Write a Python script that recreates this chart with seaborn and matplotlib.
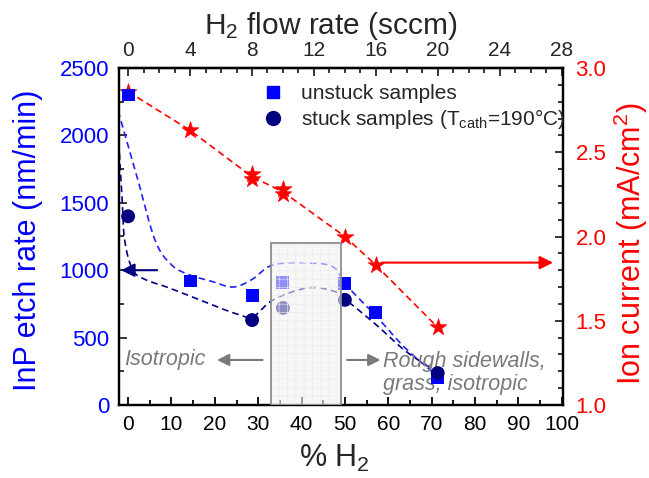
import numpy as np
import matplotlib
matplotlib.use("Agg")
import matplotlib.pyplot as plt
import seaborn as sns
import pandas as pd
from matplotlib.patches import Rectangle
from matplotlib.lines import Line2D
from matplotlib.ticker import MultipleLocator

# ---------------- data ----------------
pct_unstuck = [0, 14.3, 28.6, 35.7, 50.0, 57.1, 71.4]
rate_unstuck = [2300, 920, 810, 910, 900, 685, 200]
pct_stuck = [0, 28.6, 35.7, 50.0, 71.4]
rate_stuck = [1400, 630, 720, 780, 237]
flow_ion = [0, 4, 8, 8, 10, 10, 14, 16, 20]          # sccm
ion_current = [2.86, 2.63, 2.37, 2.34, 2.28, 2.25, 2.00, 1.83, 1.46]

# dashed guide curves
guide_unstuck_x = [-3.0, 2.0, 6.2, 10.0, 14.2, 19.0, 24.2, 28.5, 33.4, 41.3, 47.3, 50.3, 57.4, 64.0, 71.9]
guide_unstuck_y = [2260, 1700, 1224, 1040, 965, 920, 875, 930, 1039, 1054, 1024, 890, 653, 420, 200]
guide_stuck_x = [-2.6, -1.5, -0.8, 1.1, 4.0, 8.9, 16.6, 22.0, 25.8, 28.8, 33.4, 41.3, 47.3, 50.3, 57.4, 64.0, 71.6]
guide_stuck_y = [2190, 1600, 1224, 1002, 930, 875, 779, 710, 668, 653, 779, 868, 846, 779, 590, 400, 237]

x_ticks = list(range(0, 101, 10))
top_ticks = list(range(0, 29, 4))
left_ticks = [0, 500, 1000, 1500, 2000, 2500]
right_ticks = [1.0, 1.5, 2.0, 2.5, 3.0]

FLOW_MAX = 28.0


def catmull(xs, ys, n=16):
    P = np.column_stack([xs, ys]).astype(float)
    P = np.vstack([2 * P[0] - P[1], P, 2 * P[-1] - P[-2]])
    t = np.linspace(0, 1, n, endpoint=False)[:, None]
    out = []
    for i in range(1, len(P) - 2):
        p0, p1, p2, p3 = P[i - 1], P[i], P[i + 1], P[i + 2]
        seg = 0.5 * ((2 * p1) + (-p0 + p2) * t + (2 * p0 - 5 * p1 + 4 * p2 - p3) * t ** 2
                     + (-p0 + 3 * p1 - 3 * p2 + p3) * t ** 3)
        out.append(seg)
    out.append(P[-2][None, :])
    return np.vstack(out)


sns.set_style("ticks")
plt.rcParams["font.family"] = ["Liberation Sans", "DejaVu Sans"]
plt.rcParams["mathtext.fontset"] = "custom"
plt.rcParams["mathtext.rm"] = "Liberation Sans"
plt.rcParams["mathtext.it"] = "Liberation Sans:italic"
plt.rcParams["mathtext.sf"] = "Liberation Sans"
plt.rcParams["hatch.linewidth"] = 0.4

BLUE = "#0000ff"
NAVY = "#000080"
RED = "#ff0000"
GRAY = "#7a7a7a"

fig = plt.figure(figsize=(6.49, 4.78), dpi=100)
ax = fig.add_axes([119 / 649, 1 - 405 / 478, 444 / 649, 337 / 478])
ax2 = ax.twinx()
ax.set_zorder(ax2.get_zorder() + 1)
ax.patch.set_visible(False)

# ---- ion current (right axis) ----
df_ion = pd.DataFrame({"pct": [f / FLOW_MAX * 100 for f in flow_ion], "ion": ion_current})
sns.lineplot(data=df_ion, x="pct", y="ion", estimator="mean", errorbar=None, ax=ax2,
             color=RED, lw=1.2, dashes=False, linestyle=(0, (4, 2.5)), zorder=2)
sns.scatterplot(data=df_ion, x="pct", y="ion", marker="*", s=160, color=RED,
                edgecolor=RED, linewidth=0.5, ax=ax2, zorder=3)
ax2.annotate("", xy=(98, 1.845), xytext=(58.5, 1.845),
             arrowprops=dict(arrowstyle="-|>", color=RED, lw=1.5, mutation_scale=20,
                             shrinkA=0, shrinkB=0))

# ---- guide curves ----
cu = catmull(guide_unstuck_x, guide_unstuck_y)
cs = catmull(guide_stuck_x, guide_stuck_y)
sns.lineplot(x=cu[:, 0], y=cu[:, 1], sort=False, ax=ax, color="#2020ff", lw=1.2,
             linestyle=(0, (4, 2.5)), zorder=2)
sns.lineplot(x=cs[:, 0], y=cs[:, 1], sort=False, ax=ax, color=NAVY, lw=1.2,
             linestyle=(0, (4, 2.5)), zorder=2)

# ---- points ----
sns.scatterplot(x=pct_unstuck, y=rate_unstuck, marker="s", s=85, color=BLUE,
                edgecolor="none", ax=ax, zorder=4)
sns.scatterplot(x=pct_stuck, y=rate_stuck, marker="o", s=100, color=NAVY,
                edgecolor="none", ax=ax, zorder=4)

# ---- gray box ----
ax.add_patch(Rectangle((33.0, 0), 16.0, 1200, facecolor=(0.95, 0.95, 0.95), alpha=0.6,
                       edgecolor="none", zorder=5))
ax.add_patch(Rectangle((33.0, 0), 16.0, 1200, facecolor="none", hatch="++",
                       edgecolor="#ebebeb", lw=0, zorder=5))
ax.add_patch(Rectangle((33.0, 0), 16.0, 1200, fill=False, edgecolor="#8c8c8c",
                       lw=1.3, zorder=6))

# ---- arrows and annotations ----
ax.annotate("", xy=(-1.6, 1000), xytext=(6.7, 1000),
            arrowprops=dict(arrowstyle="-|>", color=NAVY, lw=1.5, mutation_scale=20,
                            shrinkA=0, shrinkB=0), annotation_clip=False)
ax.annotate("", xy=(20.5, 334), xytext=(31.0, 334),
            arrowprops=dict(arrowstyle="-|>", color=GRAY, lw=1.5, mutation_scale=18,
                            shrinkA=0, shrinkB=0))
ax.annotate("", xy=(58.2, 334), xytext=(50.5, 334),
            arrowprops=dict(arrowstyle="-|>", color=GRAY, lw=1.5, mutation_scale=18,
                            shrinkA=0, shrinkB=0))
ax.text(-0.8, 334, "Isotropic", style="italic", color=GRAY, fontsize=15.5,
        ha="left", va="center")
ax.text(58.8, 237, "Rough sidewalls,\ngrass, isotropic", style="italic", color=GRAY,
        fontsize=15.5, ha="left", va="center", linespacing=1.15)

# ---- axes settings ----
ax.set_xlim(-2.1, 100.3)
ax.set_ylim(0, 2500)
ax2.set_ylim(1.0, 3.0)
ax.set_xticks(x_ticks)
ax.xaxis.set_minor_locator(MultipleLocator(5))
ax.set_yticks(left_ticks)
ax.yaxis.set_minor_locator(MultipleLocator(250))
ax2.set_yticks(right_ticks)
ax2.yaxis.set_minor_locator(MultipleLocator(0.1))
ax.set_xticklabels([str(v) for v in x_ticks])
ax.set_yticklabels([str(v) for v in left_ticks])
ax2.set_yticklabels([f"{v:.1f}" for v in right_ticks])

ax.tick_params(axis="x", which="both", direction="in", top=False, bottom=True,
               labelsize=15, pad=7, width=1.3, colors="black")
ax.tick_params(axis="x", which="major", length=6)
ax.tick_params(axis="x", which="minor", length=3.5)
ax.tick_params(axis="y", which="both", direction="in", left=True, right=False,
               labelsize=16, pad=7, width=1.3, labelcolor=BLUE)
ax.tick_params(axis="y", which="major", length=6)
ax.tick_params(axis="y", which="minor", length=3.5)
ax2.tick_params(axis="y", which="both", direction="in", right=True, left=False,
                labelsize=16, pad=9, width=1.3, labelcolor=RED)
ax2.tick_params(axis="y", which="major", length=6)
ax2.tick_params(axis="y", which="minor", length=3.5)

secax = ax.secondary_xaxis("top", functions=(lambda p: p * FLOW_MAX / 100.0,
                                              lambda f: f * 100.0 / FLOW_MAX))
secax.set_xticks(top_ticks)
secax.set_xticklabels([str(v) for v in top_ticks])
secax.xaxis.set_minor_locator(MultipleLocator(1))
secax.tick_params(axis="x", which="both", direction="in", labelsize=15, pad=6, width=1.3)
secax.tick_params(axis="x", which="major", length=6)
secax.tick_params(axis="x", which="minor", length=3.5)

for a in (ax, ax2):
    for sp in a.spines.values():
        sp.set_linewidth(1.6)
        sp.set_color("black")
secax.spines["top"].set_linewidth(1.6)

ax.set_xlabel("% H$_2$", fontsize=22)
ax.xaxis.set_label_coords(0.484, -0.16)
ax.xaxis.label.set_va("center")
ax.set_ylabel("InP etch rate (nm/min)", fontsize=22, color=BLUE)
ax.yaxis.label.set_va("center")
ax.yaxis.set_label_coords(-0.205, 0.49)
ax2.set_ylabel("Ion current (mA/cm$^2$)", fontsize=22, color=RED)
ax2.yaxis.label.set_va("center")
ax2.yaxis.set_label_coords(1.152, 0.48)
secax.set_xlabel("H$_2$ flow rate (sccm)", fontsize=21.5)
secax.xaxis.set_label_coords(0.477, 1.125, transform=ax.transAxes)
secax.xaxis.label.set_va("center")

handles = [
    Line2D([], [], marker="s", color=BLUE, linestyle="none", markersize=9.2),
    Line2D([], [], marker="o", color=NAVY, linestyle="none", markersize=10),
]
labels = ["unstuck samples", "stuck samples (T$_{\\rm cath}$=190°C)"]
ax.legend(handles, labels, loc="upper left", bbox_to_anchor=(0.323, 0.952), frameon=False,
          fontsize=15, handlelength=1.0, handletextpad=0.85, labelspacing=0.2,
          borderpad=0, borderaxespad=0)

fig.savefig("out.png", dpi=100)
